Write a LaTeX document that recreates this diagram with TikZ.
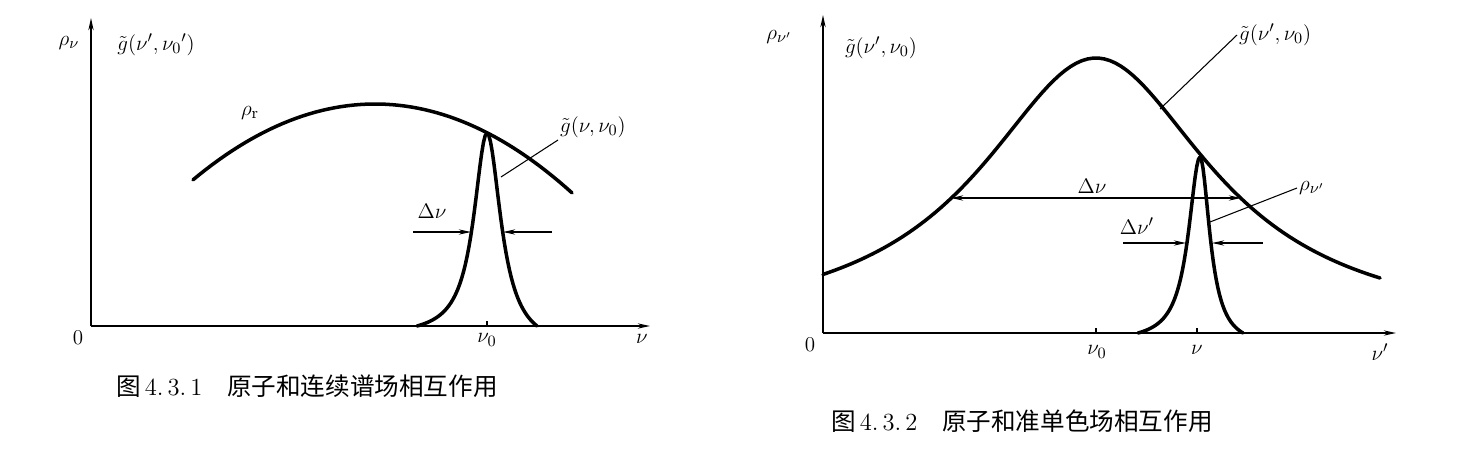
\documentclass[tikz,border=0pt]{standalone}
\usepackage{amsmath}
\usepackage{amssymb}
\usepackage{fontspec}
\newfontfamily\cjk{Noto Sans CJK SC}
\usepackage{tikz}
\usetikzlibrary{arrows.meta, positioning}

\begin{document}
\begin{tikzpicture}[x=0.02cm,y=-0.02cm,>={Stealth[length=7pt,width=3pt]},
    every node/.style={font=\fontsize{13}{16}\selectfont,inner sep=1pt},
    caption/.style={anchor=west,font=\fontsize{14}{17}\selectfont},
    axis/.style={line width=0.8pt,->},
    curve/.style={line width=2pt,line join=round,line cap=round},
    lead/.style={line width=0.6pt}]

    \useasboundingbox (0,0) rectangle (1468,450);

    % left: atom and continuous spectrum
    \coordinate (O1) at (91,326);
    \coordinate (Y1) at (91,18);
    \coordinate (X1) at (650,326);
    \draw[axis] (O1) -- (Y1);
    \draw[axis] (O1) -- (X1);
    \draw[lead] (487,326) -- (487,321);

    \node (zero1) at (78,338) {$0$};
    \node (rhonu) at (69,43) {$\rho_\nu$};
    \node (gax1) at (156,45) {$\tilde g(\nu',\nu_0{}')$};
    \node (nu01) at (487,340) {$\nu_0$};
    \node (nu1) at (642,339) {$\nu$};
    \node (rhor) at (250,113) {$\rho_\mathrm{r}$};
    \node (dnu1) at (432,211) {$\Delta\nu$};
    \node[anchor=south west] (gnu) at (558,140) {$\tilde g(\nu,\nu_0)$};

    \draw[curve] plot[domain=193:572,samples=60] (\x,{104+22.9*((\x-375)/100)^2});
    \draw[curve] plot[domain=417:487,samples=40] (\x,{326-193*(1/(1+((\x-487)/16)^2)-0.0497)/0.9503})
        -- plot[domain=487:537,samples=30] (\x,{326-193*(1/(1+((\x-487)/17)^2)-0.1036)/0.8964});

    \coordinate (w1a) at (413,232);
    \coordinate (w1b) at (471,232);
    \coordinate (w1c) at (552,232);
    \coordinate (w1d) at (503,232);
    \coordinate (p1) at (501,177);
    \path[lead,->]
    (w1a) edge (w1b)
    (w1c) edge (w1d);
    \draw[lead] (p1) -- (gnu.south west);

    % right: atom and quasi-monochromatic field
    \coordinate (O2) at (823,333);
    \coordinate (Y2) at (823,15);
    \coordinate (X2) at (1396,333);
    \draw[axis] (O2) -- (Y2);
    \draw[axis] (O2) -- (X2);
    \draw[lead] (1096,333) -- (1096,328);
    \draw[lead] (1197,333) -- (1197,328);

    \node (zero2) at (810,345) {$0$};
    \node (rhonup) at (779,37) {$\rho_{\nu'}$};
    \node (gax2) at (881,48) {$\tilde g(\nu',\nu_0)$};
    \node (nu02) at (1097,352) {$\nu_0$};
    \node (nu2) at (1197,350) {$\nu$};
    \node (nup2) at (1380,352) {$\nu'$};
    \node (dnu2) at (1092,186) {$\Delta\nu$};
    \node (dnup) at (1137,226) {$\Delta\nu'$};
    \node[anchor=west] (gR) at (1237,35) {$\tilde g(\nu',\nu_0)$};
    \node[anchor=west] (rhoR) at (1297,188) {$\rho_{\nu'}$};

    \draw[curve] plot[domain=823:1380,samples=100] (\x,{333-275/(1+((\x-1096)/142)^2)});
    \draw[curve] plot[domain=1138:1200,samples=40] (\x,{333-176*(1/(1+((\x-1200)/14)^2)-0.0485)/0.9515})
        -- plot[domain=1200:1243,samples=30] (\x,{333-176*(1/(1+((\x-1200)/12)^2)-0.0723)/0.9277});

    \coordinate (w2a) at (951,198);
    \coordinate (w2b) at (1241,198);
    \coordinate (w2c) at (1123,243);
    \coordinate (w2d) at (1186,243);
    \coordinate (w2e) at (1263,243);
    \coordinate (w2f) at (1212,243);
    \coordinate (p2) at (1160,109);
    \coordinate (p3) at (1210,222);
    \path[lead,->]
    (w2c) edge (w2d)
    (w2e) edge (w2f);
    \draw[lead,<->] (w2a) -- (w2b);
    \draw[lead] (p2) -- (gR.west);
    \draw[lead] (p3) -- (rhoR.west);

    % captions
    \node[caption] (cap1) at (114,386) {{\cjk 图}\,4.\,3.\,1\quad{\cjk 原子和连续谱场相互作用}};
    \node[caption] (cap2) at (829,421) {{\cjk 图}\,4.\,3.\,2\quad{\cjk 原子和准单色场相互作用}};
\end{tikzpicture}
\end{document}
